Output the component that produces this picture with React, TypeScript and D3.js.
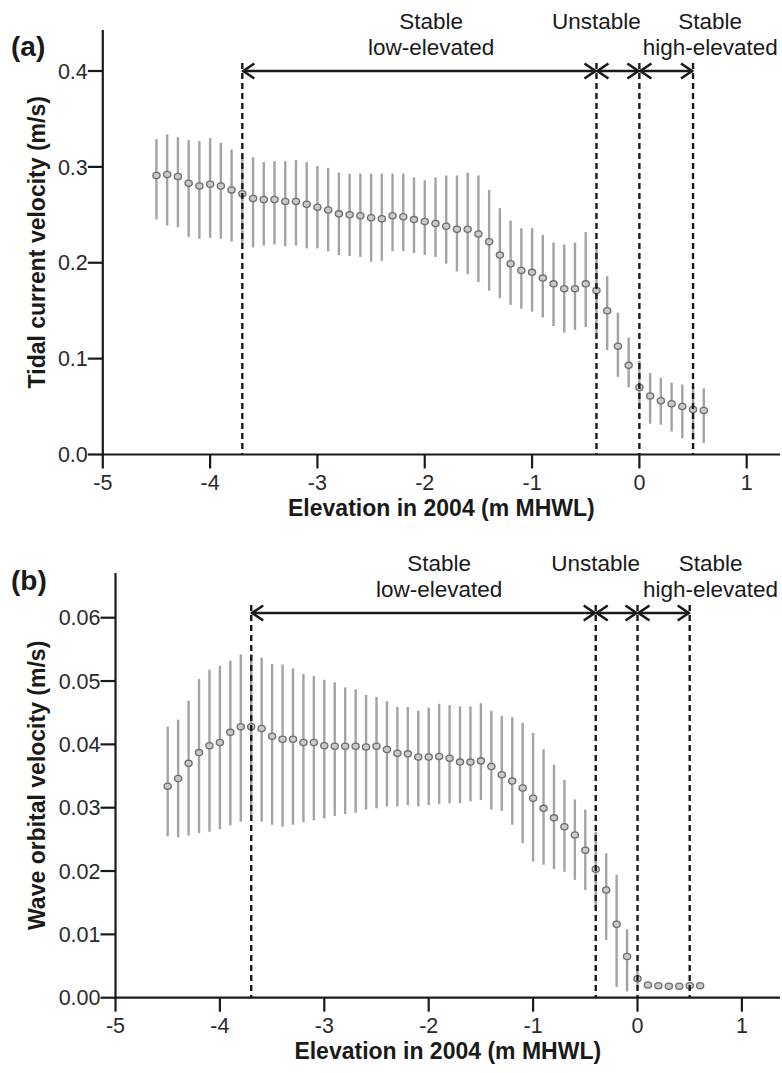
import React from "react";
import * as d3 from "d3";

// Elevation in 2004 (m MHWL) of each binned point
const elevation = [
  -4.5, -4.4, -4.3, -4.2, -4.1, -4.0, -3.9, -3.8, -3.7, -3.6,
  -3.5, -3.4, -3.3, -3.2, -3.1, -3.0, -2.9, -2.8, -2.7, -2.6,
  -2.5, -2.4, -2.3, -2.2, -2.1, -2.0, -1.9, -1.8, -1.7, -1.6,
  -1.5, -1.4, -1.3, -1.2, -1.1, -1.0, -0.9, -0.8, -0.7, -0.6,
  -0.5, -0.4, -0.3, -0.2, -0.1, 0.0, 0.1, 0.2, 0.3, 0.4,
  0.5, 0.6,
];

// (a) Tidal current velocity (m/s)
const tidalMean = [
  0.291, 0.292, 0.290, 0.283, 0.280, 0.282, 0.280, 0.276, 0.272, 0.267,
  0.266, 0.266, 0.264, 0.264, 0.261, 0.258, 0.255, 0.251, 0.250, 0.249,
  0.247, 0.246, 0.249, 0.248, 0.245, 0.243, 0.241, 0.238, 0.235, 0.235,
  0.230, 0.222, 0.208, 0.199, 0.192, 0.190, 0.184, 0.178, 0.173, 0.173,
  0.178, 0.171, 0.150, 0.113, 0.093, 0.070, 0.061, 0.056, 0.053, 0.050,
  0.047, 0.046,
];
const tidalUpper = [
  0.329, 0.334, 0.331, 0.328, 0.327, 0.330, 0.325, 0.318, 0.312, 0.310,
  0.305, 0.306, 0.306, 0.307, 0.305, 0.301, 0.299, 0.294, 0.293, 0.293,
  0.293, 0.293, 0.293, 0.293, 0.289, 0.286, 0.289, 0.291, 0.291, 0.294,
  0.291, 0.276, 0.257, 0.244, 0.236, 0.236, 0.229, 0.221, 0.219, 0.221,
  0.232, 0.215, 0.186, 0.148, 0.122, 0.098, 0.085, 0.080, 0.075, 0.073,
  0.070, 0.069,
];
const tidalLower = [
  0.245, 0.239, 0.237, 0.227, 0.225, 0.226, 0.225, 0.222, 0.219, 0.216,
  0.218, 0.219, 0.217, 0.218, 0.215, 0.215, 0.212, 0.208, 0.207, 0.206,
  0.201, 0.202, 0.212, 0.212, 0.210, 0.208, 0.206, 0.199, 0.191, 0.188,
  0.180, 0.171, 0.163, 0.156, 0.152, 0.149, 0.143, 0.134, 0.127, 0.130,
  0.133, 0.127, 0.109, 0.081, 0.070, 0.048, 0.032, 0.031, 0.024, 0.017,
  0.015, 0.012,
];

// (b) Wave orbital velocity (m/s)
const waveMean = [
  0.0334, 0.0346, 0.0370, 0.0387, 0.0398, 0.0403, 0.0419, 0.0428, 0.0428, 0.0425,
  0.0413, 0.0408, 0.0408, 0.0403, 0.0403, 0.0398, 0.0397, 0.0397, 0.0397, 0.0396,
  0.0397, 0.0392, 0.0386, 0.0385, 0.0380, 0.0380, 0.0381, 0.0378, 0.0372, 0.0372,
  0.0374, 0.0365, 0.0352, 0.0342, 0.0331, 0.0315, 0.0299, 0.0284, 0.0270, 0.0257,
  0.0233, 0.0203, 0.0170, 0.0116, 0.0065, 0.0030, 0.0020, 0.0019, 0.0018, 0.0018,
  0.0019, 0.0019,
];
const waveUpper = [
  0.0428, 0.0439, 0.0469, 0.0503, 0.0518, 0.0524, 0.0532, 0.0542, 0.0543, 0.0537,
  0.0527, 0.0526, 0.0520, 0.0511, 0.0508, 0.0502, 0.0498, 0.0490, 0.0487, 0.0478,
  0.0475, 0.0468, 0.0459, 0.0459, 0.0453, 0.0458, 0.0464, 0.0462, 0.0460, 0.0460,
  0.0465, 0.0453, 0.0445, 0.0443, 0.0434, 0.0418, 0.0392, 0.0368, 0.0344, 0.0313,
  0.0297, 0.0262, 0.0228, 0.0194, 0.0108, 0.0045, 0.0024, 0.0022, 0.0021, 0.0021,
  0.0022, 0.0022,
];
const waveLower = [
  0.0255, 0.0253, 0.0256, 0.0260, 0.0262, 0.0266, 0.0272, 0.0278, 0.0282, 0.0278,
  0.0273, 0.0270, 0.0273, 0.0277, 0.0280, 0.0283, 0.0287, 0.0290, 0.0292, 0.0297,
  0.0299, 0.0302, 0.0302, 0.0304, 0.0302, 0.0304, 0.0306, 0.0307, 0.0307, 0.0310,
  0.0312, 0.0297, 0.0295, 0.0273, 0.0244, 0.0215, 0.0210, 0.0203, 0.0199, 0.0186,
  0.0170, 0.0142, 0.0091, 0.0017, 0.0010, 0.0015, 0.0016, 0.0016, 0.0015, 0.0015,
  0.0016, 0.0016,
];

// Zone boundaries and labels
const zoneBounds = [-3.7, -0.4, 0, 0.5];
const zoneLabels = [
  ["Stable", "low-elevated"],
  ["Unstable"],
  ["Stable", "high-elevated"],
];
const xTicks = [-5, -4, -3, -2, -1, 0, 1];
const yTicksA = [0.0, 0.1, 0.2, 0.3, 0.4];
const yTicksB = [0.0, 0.01, 0.02, 0.03, 0.04, 0.05, 0.06];

const FONT = "'Liberation Sans', Arial, Helvetica, sans-serif";
const INK = "#1a1a1a";

type PanelProps = {
  tag: string;
  yTitle: string;
  mean: number[];
  upper: number[];
  lower: number[];
  yTicks: number[];
  yFmt: (v: number) => string;
  xRange: [number, number];
  yDomain: [number, number];
  yRange: [number, number];
  yTop: number;
  arrowY: number;
  labelX: number[];
  tagY: number;
};

function Chevron({ x, y, dir }: { x: number; y: number; dir: number }) {
  const L = 11;
  const H = 7.5;
  return (
    <path
      d={`M${x - dir * L},${y - H} L${x},${y} L${x - dir * L},${y + H}`}
      fill="none"
      stroke={INK}
      strokeWidth={2.6}
    />
  );
}

function Panel(p: PanelProps) {
  const x = d3.scaleLinear().domain([-5, 1]).range(p.xRange);
  const y = d3.scaleLinear().domain(p.yDomain).range(p.yRange);
  const x0 = x(-5);
  const y0 = y(0);
  const xRight = 780;
  const tick = 14;
  const midY = (y0 + p.yTop) / 2;
  const midX = (x0 + xRight) / 2;
  return (
    <g fontFamily={FONT}>
      <text x={11} y={p.tagY} fontSize={28} fontWeight="bold" fill={INK}>
        {p.tag}
      </text>
      <text
        transform={`translate(45,${midY}) rotate(-90)`}
        textAnchor="middle"
        fontSize={23}
        fontWeight="bold"
        fill={INK}
      >
        {p.yTitle}
      </text>
      <text x={midX} y={y0 + 61} textAnchor="middle" fontSize={23} fontWeight="bold" fill={INK}>
        Elevation in 2004 (m MHWL)
      </text>

      {elevation.map((e, i) => (
        <line
          key={`eb${i}`}
          x1={x(e)}
          x2={x(e)}
          y1={y(p.upper[i])}
          y2={y(p.lower[i])}
          stroke="#a3a3a3"
          strokeWidth={2.4}
        />
      ))}
      {elevation.map((e, i) => (
        <ellipse
          key={`pt${i}`}
          cx={x(e)}
          cy={y(p.mean[i])}
          rx={3.6}
          ry={3.1}
          fill="#c9c9c9"
          stroke="#6e6e6e"
          strokeWidth={1.3}
        />
      ))}

      {zoneBounds.map((b, i) => (
        <line
          key={`zb${i}`}
          x1={x(b)}
          x2={x(b)}
          y1={p.arrowY - 8}
          y2={y0}
          stroke={INK}
          strokeWidth={2.4}
          strokeDasharray="6,4"
        />
      ))}

      {zoneBounds.slice(0, -1).map((b, i) => {
        const a = x(b);
        const c = x(zoneBounds[i + 1]);
        return (
          <g key={`ar${i}`}>
            <line x1={a} x2={c} y1={p.arrowY} y2={p.arrowY} stroke={INK} strokeWidth={2.6} />
            <Chevron x={a + 1} y={p.arrowY} dir={-1} />
            <Chevron x={c - 1} y={p.arrowY} dir={1} />
          </g>
        );
      })}

      {zoneLabels.map((lines, i) =>
        lines.map((t, j) => (
          <text
            key={`zl${i}-${j}`}
            x={x(p.labelX[i])}
            y={p.arrowY - 42 + j * 26}
            textAnchor="middle"
            fontSize={22.5}
            fill={INK}
          >
            {t}
          </text>
        ))
      )}

      <line x1={x0} x2={xRight} y1={y0} y2={y0} stroke={INK} strokeWidth={2.2} />
      <line x1={x0} x2={x0} y1={y0 + 1} y2={p.yTop} stroke={INK} strokeWidth={2.2} />
      {xTicks.map((t) => (
        <g key={`xt${t}`}>
          <line x1={x(t)} x2={x(t)} y1={y0} y2={y0 + tick} stroke={INK} strokeWidth={2.2} />
          <text x={x(t)} y={y0 + 35} textAnchor="middle" fontSize={21.5} fill="#2a2a2a">
            {t}
          </text>
        </g>
      ))}
      {p.yTicks.map((t) => (
        <g key={`yt${t}`}>
          <line x1={x0} x2={x0 - 15} y1={y(t)} y2={y(t)} stroke={INK} strokeWidth={2.2} />
          <text
            x={x0 - 15}
            y={y(t)}
            dy="0.36em"
            textAnchor="end"
            fontSize={21.5}
            fill="#2a2a2a"
          >
            {p.yFmt(t)}
          </text>
        </g>
      ))}
    </g>
  );
}

export default function App() {
  return (
    <svg
      width={782}
      height={1073}
      style={{ position: "absolute", left: 0, top: 0, background: "#fff" }}
    >
      <rect width={782} height={1073} fill="#fff" />
      <Panel
        tag="(a)"
        yTitle="Tidal current velocity (m/s)"
        mean={tidalMean}
        upper={tidalUpper}
        lower={tidalLower}
        yTicks={yTicksA}
        yFmt={d3.format(".1f")}
        xRange={[102.8, 746.7]}
        yDomain={[0, 0.4]}
        yRange={[454.5, 71]}
        yTop={30}
        arrowY={71}
        labelX={[-1.94, -0.4, 0.66]}
        tagY={56}
      />
      <Panel
        tag="(b)"
        yTitle="Wave orbital velocity (m/s)"
        mean={waveMean}
        upper={waveUpper}
        lower={waveLower}
        yTicks={yTicksB}
        yFmt={d3.format(".2f")}
        xRange={[115.5, 741.9]}
        yDomain={[0, 0.06]}
        yRange={[997.7, 617.7]}
        yTop={573}
        arrowY={613}
        labelX={[-1.9, -0.4, 0.7]}
        tagY={590}
      />
    </svg>
  );
}
